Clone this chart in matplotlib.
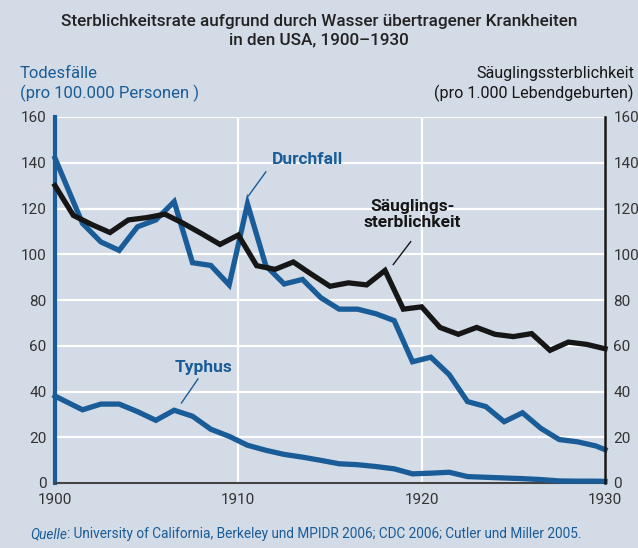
import matplotlib
matplotlib.use("Agg")
import matplotlib.pyplot as plt
from matplotlib import font_manager as fm

# ---------------- data ----------------
years = list(range(1900, 1931))
saeugling = [130, 117, 113, 109.5, 115, 116, 117.5, 113.5, 109, 104.3,
             108.4, 95, 93.4, 96.6, 91.2, 86, 87.5, 86.6, 92.9, 76,
             77, 68, 65, 68, 65, 64, 65.3, 58, 61.6, 60.6, 58.7]

# blue series are plotted at mid-year positions (first/last at the axis ends)
mid_years = [1900, 1901.5, 1902.5, 1903.5, 1904.5, 1905.5, 1906.5, 1907.5,
             1908.5, 1909.5, 1910.5, 1911.5, 1912.5, 1913.5, 1914.5, 1915.5,
             1916.5, 1917.5, 1918.5, 1919.5, 1920.5, 1921.5, 1922.5, 1923.5,
             1924.5, 1925.5, 1926.5, 1927.5, 1928.5, 1929.5, 1930]
durchfall = [142, 113.5, 105.4, 101.7, 112, 115, 123, 96.3, 95.1, 86.6,
             122, 95, 87, 89, 81, 76, 76, 74, 71, 53,
             55, 47.4, 35.6, 33.4, 26.8, 30.7, 23.9, 19, 18, 16.2, 14.6]
typhus = [38, 32, 34.5, 34.5, 31.2, 27.4, 31.8, 29.2, 23.5, 20.4,
          16.5, 14.3, 12.5, 11.3, 9.9, 8.4, 8, 7.2, 6.2, 4,
          4.3, 4.7, 2.8, 2.5, 2.2, 1.9, 1.5, 0.9, 0.8, 0.8, 0.7]

xticks = [1900, 1910, 1920, 1930]
yticks = [0, 20, 40, 60, 80, 100, 120, 140, 160]

title = "Sterblichkeitsrate aufgrund durch Wasser übertragener Krankheiten\nin den USA, 1900–1930"
left_label = "Todesfälle\n(pro 100.000 Personen )"
right_label = "Säuglingssterblichkeit\n(pro 1.000 Lebendgeburten)"
source_italic = "Quelle"
source_rest = ": University of California, Berkeley und MPIDR 2006; CDC 2006; Cutler und Miller 2005."

# ---------------- style ----------------
names = {f.name for f in fm.fontManager.ttflist}
fam = "Liberation Sans Narrow" if "Liberation Sans Narrow" in names else "Roboto"
plt.rcParams['font.family'] = [fam, 'DejaVu Sans']

BG = "#d3dbe7"
BLUE = "#1a5c98"
BLACK = "#161616"
GREY = "#333333"

fig = plt.figure(figsize=(6.38, 5.48), dpi=100, facecolor=BG)
ax = fig.add_axes([55/638, 1-483/548, 550/638, 366/548])
ax.set_facecolor(BG)
ax.set_xlim(1900, 1930)
ax.set_ylim(0, 160)

ax.set_yticks(yticks)
ax.set_xticks(xticks)
ax.grid(True, color="white", linewidth=1.6)
ax.set_axisbelow(True)
ax.tick_params(axis='both', length=0, labelsize=11, labelcolor=GREY, pad=6)
ax.tick_params(axis='x', pad=7)
ax.spines["top"].set_visible(False)
ax.spines["left"].set_color(BLUE)
ax.spines["left"].set_linewidth(3)
ax.spines["bottom"].set_color("#444444")
ax.spines["bottom"].set_linewidth(1.5)
ax.spines["right"].set_visible(False)

ax2 = ax.twinx()
ax2.set_ylim(0, 160)
ax2.set_yticks(yticks)
ax2.tick_params(axis='y', length=0, labelsize=11, labelcolor=GREY, pad=6)
for s in ["top", "left", "bottom"]:
    ax2.spines[s].set_visible(False)
ax2.spines["right"].set_color(BLACK)
ax2.spines["right"].set_linewidth(1.8)

ax.plot(mid_years, typhus, color=BLUE, lw=3.8, solid_joinstyle="miter", clip_on=False, zorder=3)
ax.plot(mid_years, durchfall, color=BLUE, lw=3.8, solid_joinstyle="miter", clip_on=False, zorder=3)
ax2.plot(years, saeugling, color=BLACK, lw=3.8, solid_joinstyle="miter", clip_on=False, zorder=4)

# annotations
ax.text(1913.8, 141.5, "Durchfall", color=BLUE, fontsize=12.5, fontweight="bold",
        ha="center", va="center")
ax.plot([1911.5, 1910.55], [136, 125.5], color=BLUE, lw=1)
ax2.text(1919.5, 117.5, "Säuglings-\nsterblichkeit", color=BLACK, fontsize=12.5,
         fontweight="bold", ha="center", va="center", linespacing=1.05)
ax2.plot([1919.4, 1918.45], [105.5, 95.5], color=BLACK, lw=1)
ax.text(1908.1, 50.5, "Typhus", color=BLUE, fontsize=12.5, fontweight="bold",
        ha="center", va="center")
ax.plot([1907.8, 1906.9], [45.5, 35], color=BLUE, lw=1)

# texts
fig.text(0.5, 1-31/548, title, ha="center", va="center", fontsize=12.3,
         color="#222222", linespacing=1.3, fontweight="medium")
fig.text(20/638, 1-84/548, left_label, ha="left", va="center", fontsize=12,
         color=BLUE, linespacing=1.3)
fig.text(634/638, 1-84/548, right_label, ha="right", va="center", fontsize=11.6,
         color=BLACK, linespacing=1.3)

t1 = fig.text(30/638, 1-534/548, source_italic, ha="left", va="center", fontsize=9.8,
              color=BLUE, style="italic")
fig.canvas.draw()
bb = t1.get_window_extent(fig.canvas.get_renderer())
fig.text(bb.x1/fig.bbox.width, 1-534/548, source_rest, ha="left", va="center",
         fontsize=9.8, color=BLUE)

fig.savefig("out.png", dpi=100, facecolor=BG)
